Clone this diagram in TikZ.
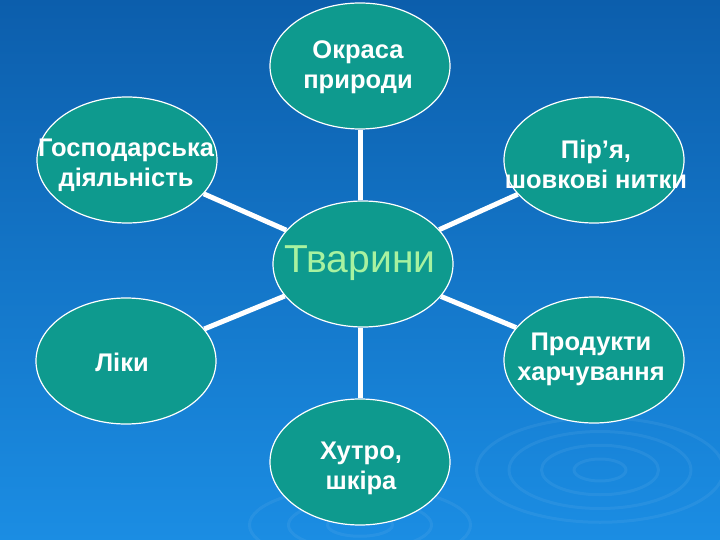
\documentclass[tikz,border=0pt]{standalone}
\usepackage{fontspec}
\setmainfont{Liberation Sans}
\usetikzlibrary{shapes.geometric}
\definecolor{bgtop}{HTML}{0C5EAC}
\definecolor{bgbot}{HTML}{1B8DE3}
\definecolor{teal}{HTML}{0E9A8E}
\definecolor{lgreen}{HTML}{A8F2A0}
\tikzset{
  bubble/.style={ellipse, draw=white, line width=1.2pt, fill=teal, minimum width=180pt, minimum height=126pt, inner sep=0pt},
  lbl/.style={text=white, font=\bfseries\fontsize{25.5}{30}\selectfont, align=center, inner sep=0pt},
  conn/.style={draw=white, line width=5pt},
  ripple/.style={draw=white, opacity=0.06, line width=3pt}
}
\begin{document}
\begin{tikzpicture}[x=1pt,y=-1pt]
\useasboundingbox (0,0) rectangle (720,540);
\shade[top color=bgtop, bottom color=bgbot] (0,0) rectangle (720,540);
% faint ripples
\foreach \r in {20,45,70,95}{
  \draw[ripple] (600,470) ellipse ({\r*1.3} and {\r*0.55});
}
\foreach \r in {25,55,85}{
  \draw[ripple] (360,525) ellipse ({\r*1.3} and {\r*0.45});
}
% bubbles
\node[bubble] (c)  at (363,264) {};
\node[bubble] (t)  at (360,66) {};
\node[bubble] (lu) at (127,160) {};
\node[bubble] (ru) at (594,160) {};
\node[bubble] (ll) at (126,361) {};
\node[bubble] (rl) at (594,360) {};
\node[bubble] (b)  at (360,462) {};
% connectors
\draw[conn] (t.south) -- (t.south |- c.north);
\draw[conn] (c) -- (lu);
\draw[conn] (c) -- (ru);
\draw[conn] (c) -- (ll);
\draw[conn] (c) -- (rl);
\draw[conn] (b.north) -- (b.north |- c.south);
% labels
\node[inner sep=0pt, text=lgreen, font=\fontsize{39}{42}\selectfont] (tc) at (360,263) {Тварини};
\node[lbl] (tt) at (358,67) {Окраса\\природи};
\node[lbl] (tlu) at (126,165) {Господарська\\діяльність};
\node[lbl] (tru) at (596,164) {Пір’я,\\шовкові нитки};
\node[lbl] (tll) at (122,362) {Ліки};
\node[lbl] (trl) at (591,359) {Продукти\\харчування};
\node[lbl] (tb) at (361,468) {Хутро,\\шкіра};
\end{tikzpicture}
\end{document}
